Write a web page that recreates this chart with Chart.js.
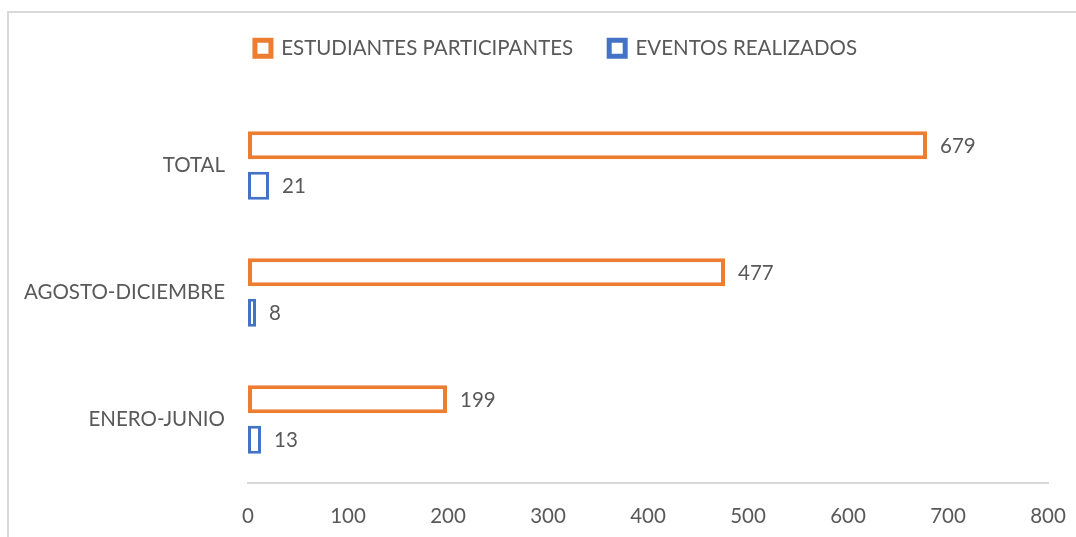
<!DOCTYPE html>
<html>
<head>
<meta charset="utf-8">
<script src="https://cdn.jsdelivr.net/npm/chart.js@4"></script>
<style>
  html, body { margin: 0; padding: 0; background: #fff; overflow: hidden; }
  #frame { position: absolute; left: 7px; top: 11px; width: 1200px; height: 700px; border: 2px solid #d9d9d9; box-sizing: border-box; }
  #wrap { position: absolute; left: 0; top: 0; width: 1076px; height: 537px; }
</style>
</head>
<body>
<div id="frame"></div>
<div id="wrap"><canvas id="chart" width="1076" height="537"></canvas></div>
<script>
var categories = ['TOTAL', 'AGOSTO-DICIEMBRE', 'ENERO-JUNIO'];
var estudiantes = [679, 477, 199];
var eventos = [21, 8, 13];
var xTicks = [0, 100, 200, 300, 400, 500, 600, 700, 800];

var FONT = 'Lato, "Open Sans", sans-serif';
Chart.defaults.font.family = FONT;
Chart.defaults.font.size = 20.5;
Chart.defaults.color = '#595959';

// etiquetas de valor a la derecha de cada barra
var valueLabels = {
    id: 'valueLabels',
    afterDatasetsDraw: function (chart) {
        var ctx = chart.ctx;
        ctx.save();
        ctx.font = '20.5px ' + FONT;
        ctx.fillStyle = '#595959';
        ctx.textAlign = 'left';
        ctx.textBaseline = 'middle';
        chart.data.datasets.forEach(function (ds, i) {
            chart.getDatasetMeta(i).data.forEach(function (bar, j) {
                ctx.fillText(String(ds.data[j]), bar.x + 13, bar.y + 1);
            });
        });
        ctx.restore();
    }
};

// leyenda: alto fijo y algo desplazada a la derecha
var legendTweak = {
    id: 'legendTweak',
    beforeInit: function (chart) {
        var orig = chart.legend.fit;
        chart.legend.fit = function () {
            orig.call(this);
            this.height = 100;
        };
    },
    afterUpdate: function (chart) {
        chart.legend.left += 18;
        chart.legend.right += 18;
    }
};

var ctx = document.getElementById('chart');
var myChart = new Chart(ctx, {
    type: 'bar',
    data: {
        labels: categories,
        datasets: [{
            label: 'ESTUDIANTES PARTICIPANTES',
            data: estudiantes,
            backgroundColor: '#ffffff',
            borderColor: '#ED7D31',
            borderWidth: 4,
            borderSkipped: false
        }, {
            label: 'EVENTOS REALIZADOS',
            data: eventos,
            backgroundColor: '#ffffff',
            borderColor: '#4472C4',
            borderWidth: 3,
            borderSkipped: false
        }]
    },
    options: {
        indexAxis: 'y',
        responsive: false,
        animation: false,
        categoryPercentage: 0.64,
        barPercentage: 0.69,
        layout: { padding: { top: 2, right: 0, left: 0, bottom: 0 } },
        plugins: {
            legend: {
                position: 'top',
                labels: {
                    boxWidth: 16,
                    boxHeight: 16,
                    padding: 36,
                    color: '#595959',
                    generateLabels: function (chart) {
                        var items = Chart.defaults.plugins.legend.labels.generateLabels(chart);
                        items.forEach(function (it) { it.lineWidth = 5; });
                        return items;
                    }
                }
            },
            tooltip: { enabled: false }
        },
        scales: {
            x: {
                min: 0,
                max: 800,
                afterBuildTicks: function (scale) {
                    scale.ticks = xTicks.map(function (v) { return { value: v }; });
                },
                grid: { display: false, drawTicks: false },
                border: { display: true, color: '#d9d9d9', width: 2 },
                ticks: { padding: 21, color: '#595959' },
                afterFit: function (scale) {
                    scale.height = 54;
                    scale.paddingRight = 28;
                }
            },
            y: {
                grid: { display: false, drawTicks: false },
                border: { display: false },
                ticks: { padding: 23, color: '#595959' },
                afterFit: function (scale) { scale.width = 248; }
            }
        }
    },
    plugins: [valueLabels, legendTweak]
});
</script>
</body>
</html>
